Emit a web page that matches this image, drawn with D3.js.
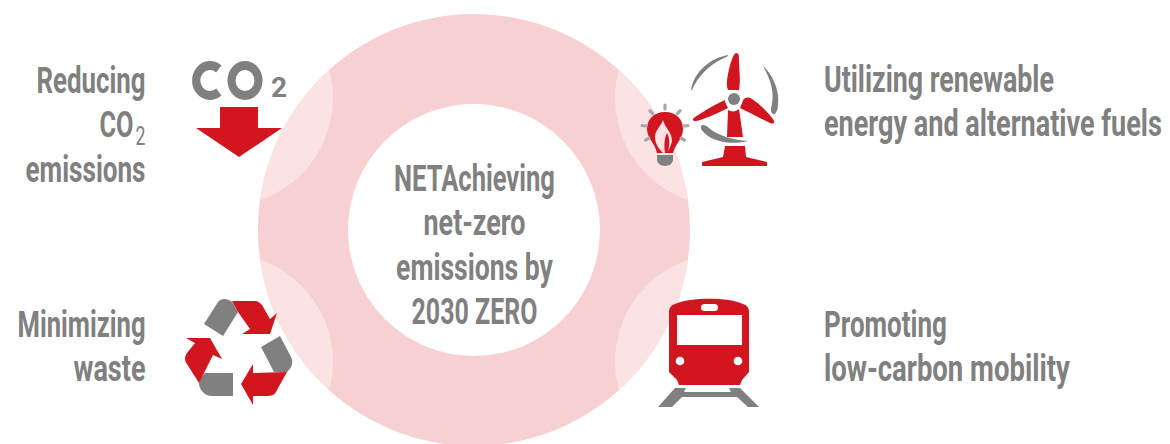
<!DOCTYPE html>
<html>
<head>
<meta charset="utf-8">
<script src="https://cdn.jsdelivr.net/npm/d3@7"></script>
<style>
  html, body { margin: 0; padding: 0; background: #fff; overflow: hidden; }
  text { font-family: "Roboto", sans-serif; font-weight: 700; fill: #808080; }
</style>
</head>
<body>
<svg id="chart" width="1170" height="444"></svg>
<script>
const RED = "#d2161f", GREY = "#808080", PALE = "#fbe3e4";

// Chart content
const centerLines = ["NETAchieving", "net-zero", "emissions by", "2030 ZERO"];
const pillars = ["co2", "renewable", "waste", "mobility"];
const pillarLines = [
  ["Reducing", "CO|2", "emissions"],
  ["Utilizing renewable", "energy and alternative fuels"],
  ["Minimizing", "waste"],
  ["Promoting", "low-carbon mobility"]
];
const pillarSides = ["left", "right", "left", "right"];
const pillarRows = ["top", "top", "bottom", "bottom"];

const svg = d3.select("#chart");

// Ring, one full turn
const ringCx = 474, ringCy = 230, ringOuter = 216, ringInner = 126;
const ring = d3.arc().innerRadius(ringInner).outerRadius(ringOuter).startAngle(0).endAngle(2 * Math.PI);

// Scales place the pale corner discs and the text blocks
const cornerX = d3.scaleOrdinal().domain(["left", "right"]).range([225, 723]);
const cornerY = d3.scaleOrdinal().domain(["top", "bottom"]).range([98, 362]);
const labelX = d3.scaleOrdinal().domain(["left", "right"]).range([145.5, 824]);
const labelAnchor = { left: "end", right: "start" };

// Layout of the text: the original face is condensed, so each line is squeezed to its width
const fontSize = 37;
const lineStep = 44.4;
const centerTop = 190.7;
const centerWidths = [161, 102, 157, 126];
const labelTop = [92.7, 91.7, 336.7, 336.7];
const labelWidths = [[109, 44, 120], [230, 338], [128, 72], [123, 246]];

svg.append("clipPath").attr("id", "ring-clip")
  .append("path")
  .attr("transform", `translate(${ringCx},${ringCy})`)
  .attr("d", ring());

svg.append("path")
  .attr("transform", `translate(${ringCx},${ringCy})`)
  .attr("d", ring())
  .attr("fill", "#f7d0d2");

svg.append("g").attr("clip-path", "url(#ring-clip)")
  .selectAll("circle")
  .data(pillars)
  .join("circle")
  .attr("cx", (d, i) => cornerX(pillarSides[i]))
  .attr("cy", (d, i) => cornerY(pillarRows[i]))
  .attr("r", 108)
  .attr("fill", PALE);

// One squeezed line of text, "CO|2" gets a subscript
function fitLine(parent, str, x, y, width, anchor) {
  const parts = str.split("|");
  const t = parent.append("text")
    .attr("text-anchor", anchor)
    .attr("font-size", fontSize);
  t.append("tspan").text(parts[0]);
  if (parts[1]) {
    t.append("tspan").attr("dx", 3).attr("dy", 8).attr("font-size", 26).attr("font-weight", 400).text(parts[1]);
  }
  const sx = width / t.node().getComputedTextLength();
  t.attr("transform", `translate(${x},${y}) scale(${sx},1)`);
}

centerLines.forEach((d, i) => {
  fitLine(svg, d, ringCx + 0.5, centerTop + i * lineStep, centerWidths[i], "middle");
});

pillars.forEach((p, i) => {
  const side = pillarSides[i];
  pillarLines[i].forEach((d, j) => {
    fitLine(svg, d, labelX(side), labelTop[i] + j * lineStep, labelWidths[i][j], labelAnchor[side]);
  });
});

// Icons, drawn in their own local coordinates
// CO2 and arrow
const letterArc = d3.arc().innerRadius(10.5).outerRadius(19.5);
const co2 = svg.append("g");
co2.append("path")
  .attr("transform", "translate(210,80.5) scale(0.92,1)")
  .attr("fill", GREY)
  .attr("d", letterArc({ startAngle: Math.PI * 0.78, endAngle: Math.PI * 2.22 }));
co2.append("path")
  .attr("transform", "translate(245,80.5) scale(0.9,1)")
  .attr("fill", GREY)
  .attr("d", letterArc({ startAngle: 0, endAngle: 2 * Math.PI }));
co2.append("text").attr("x", 271).attr("y", 97).attr("font-size", 28).text("2");
co2.append("path").attr("fill", RED).attr("d", "M220 107H258V128H282L239 157L196 128H220Z");

// Turbine
const turbine = svg.append("g");
const turbineRed = [
  "M736 53C739 53 739 56 739 60C739 70 741 80 739 90L728 90C726 85 727 80 728 74C730 64 733 54 736 53Z",
  "M743 100C746 97 749 97 752 99C760 104 772 116 774 121C775 124 772 124 770 123C760 118 748 112 740 108Z",
  "M725 100C725 103 727 106 728 108C716 114 702 120 696 121C692 121 692 119 695 117C704 111 716 104 725 100Z",
  "M728 110C731 112 736 112 739 109L743 137H727Z",
  "M725 146H745L746 157L767 162V166H702V162L723 157Z"
];
turbine.selectAll("path.red").data(turbineRed).join("path").attr("class", "red").attr("fill", RED).attr("d", d => d);
turbine.append("circle").attr("cx", 734).attr("cy", 99).attr("r", 9).attr("fill", "#fff");
turbine.append("circle").attr("cx", 734).attr("cy", 99).attr("r", 6).attr("fill", GREY);
const turbineGrey = [
  "M691 90C694 72 710 58 728 55C728 57 726 57 722 59C708 66 698 76 692 90Z",
  "M763 66C772 74 780 90 778 104C778 110 776 115 773 114C770 112 771 108 772 104C774 92 771 80 763 66Z",
  "M701 126C702 124 706 125 709 128C718 136 734 140 748 141C738 144 720 144 708 136C703 132 700 129 701 126Z"
];
turbine.selectAll("path.grey").data(turbineGrey).join("path").attr("class", "grey").attr("fill", GREY).attr("d", d => d);

// Bulb
const bulb = svg.append("g");
bulb.append("path").attr("fill", RED)
  .attr("d", "M665 112C677 112 683 120 683 129C683 138 676 143 673 153H657C655 143 647 138 647 129C647 120 653 112 665 112Z");
bulb.append("path").attr("fill", PALE)
  .attr("d", "M663 120C665 128 672 132 672 141C671 146 669 150 666 153H663C659 149 655 144 655 137C655 130 661 126 663 120Z");
bulb.append("path").attr("fill", RED)
  .attr("d", "M665 153C664 146 664 139 667 133C670 138 670 146 667 153Z");
bulb.append("path").attr("fill", GREY)
  .attr("d", "M657 155H673V160C673 163 669 166 665 166C661 166 657 163 657 160Z");
const rayAngles = [0, 41, 84, 122, -122, -84, -41].map(a => a * Math.PI / 180);
bulb.selectAll("line")
  .data(rayAngles)
  .join("line")
  .attr("x1", d => 665 + d3.pointRadial(d, 19)[0])
  .attr("y1", d => 128 + d3.pointRadial(d, 19)[1])
  .attr("x2", d => 665 + d3.pointRadial(d, 23)[0])
  .attr("y2", d => 128 + d3.pointRadial(d, 23)[1])
  .attr("stroke", "#a8a8a8").attr("stroke-width", 3.2).attr("stroke-linecap", "round");

// Recycling arrows
const recycleGrey = [
  "M204 324L218 302C221 298 228 298 233 303L238 312L223 336Z",
  "M261 347L280 336L290 355C293 360 294 366 287 372H274Z",
  "M233 373V396H212C205 396 199 390 199 383C199 379 203 375 205 373Z"
];
const recycleRed = [
  "M232 301H255C258 301 260 303 262 305L270 319L277 313L270 334H242L250 329L238 312Z",
  "M287 372L278 388C276 393 274 396 268 396H253V405L241 384L253 364V373Z",
  "M186 338H210L222 359L213 355L199 383L187 364C184 360 185 356 187 353L195 343Z"
];
const recycle = svg.append("g");
recycle.selectAll("path.grey").data(recycleGrey).join("path").attr("class", "grey").attr("fill", GREY).attr("d", d => d);
recycle.selectAll("path.red").data(recycleRed).join("path").attr("class", "red").attr("fill", RED).attr("d", d => d);

// Train
const train = svg.append("g");
train.append("path").attr("fill", RED)
  .attr("d", "M669 312C669 308 671 305 675 304C690 297 729 297 743 304C747 305 749 308 749 312V372L742 380L740 385H679L677 380L669 372Z");
train.append("rect").attr("x", 677).attr("y", 315).attr("width", 65).attr("height", 30).attr("fill", "#fff");
train.append("rect").attr("x", 701).attr("y", 304).attr("width", 17).attr("height", 7).attr("rx", 3.5).attr("fill", "#fff");
train.append("circle").attr("cx", 680).attr("cy", 361).attr("r", 4.3).attr("fill", "#fff");
train.append("circle").attr("cx", 738).attr("cy", 361).attr("r", 4.3).attr("fill", "#fff");
train.append("path").attr("fill", GREY)
  .attr("d", "M675 388H686L684 392H731L729 388H740L759 407H748L737 397H682L672 407H658Z");
</script>
</body>
</html>
